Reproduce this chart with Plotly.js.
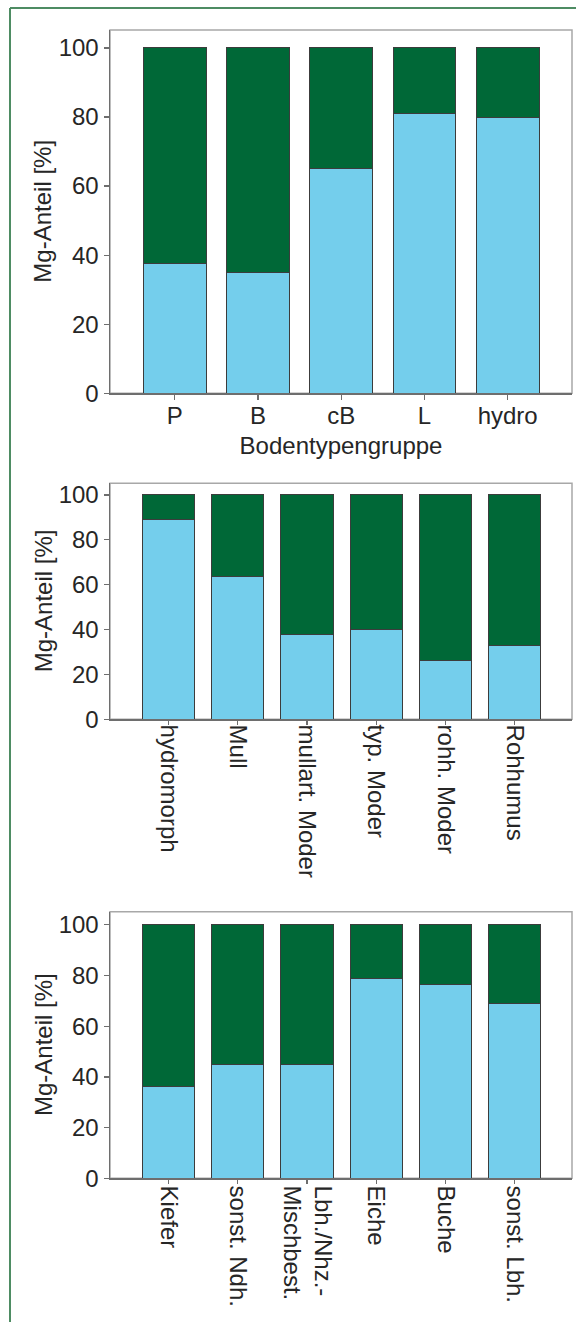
<!DOCTYPE html>
<html>
<head>
<meta charset="utf-8">
<script src="https://cdn.plot.ly/plotly-3.0.1.min.js"></script>
<style>
html,body{margin:0;padding:0;background:#fff;}
#chart{width:576px;height:1322px;}
</style>
</head>
<body>
<div id="chart"></div>
<script>
// ---- data ----
var cat1 = ['P', 'B', 'cB', 'L', 'hydro'];
var light1 = [37.6, 35.0, 65.1, 81.0, 80.0];
var dark1 = [62.4, 65.0, 34.9, 19.0, 20.0];

var cat2 = ['hydromorph', 'Mull', 'mullart. Moder', 'typ. Moder', 'rohh. Moder', 'Rohhumus'];
var light2 = [88.9, 63.6, 38.0, 40.0, 26.4, 32.8];
var dark2 = [11.1, 36.4, 62.0, 60.0, 73.6, 67.2];

var cat3 = ['Kiefer', 'sonst. Ndh.', 'Lbh./Nhz.-<br>Mischbest.', 'Eiche', 'Buche', 'sonst. Lbh.'];
var light3 = [36.2, 45.0, 45.0, 78.7, 76.3, 68.8];
var dark3 = [63.8, 55.0, 55.0, 21.3, 23.7, 31.2];

var yTitle = 'Mg-Anteil [%]';
var xTitle1 = 'Bodentypengruppe';
var yTicks = [0, 20, 40, 60, 80, 100];

// ---- styling ----
var W = 576, H = 1322;
var LIGHT = '#74CEEC', DARK = '#006837', EDGE = '#3c3c3c';
var FS = 24;
var FONT = {family: 'Liberation Sans, Arial, sans-serif', size: FS, color: '#262626'};
function py(p) { return 1 - p / H; }
function px(p) { return p / W; }

var xdom = [px(110), px(572)];
var panels = [
  {cats: cat1, light: light1, dark: dark1, top: 30, bottom: 393.3, xr: [-0.779, 4.773], angle: 0, tl: 5, so: -5},
  {cats: cat2, light: light2, dark: dark2, top: 483.3, bottom: 719.3, xr: [-0.845, 5.826], angle: 90, tl: 4, so: -5},
  {cats: cat3, light: light3, dark: dark3, top: 911.7, bottom: 1178.3, xr: [-0.845, 5.826], angle: 90, tl: 4, so: -3}
];

var data = [];
var layout = {
  width: W, height: H,
  margin: {l: 0, r: 0, t: 0, b: 0},
  paper_bgcolor: '#fff', plot_bgcolor: '#fff',
  barmode: 'stack', bargap: 0.244,
  showlegend: false,
  font: FONT,
  shapes: [], annotations: []
};

panels.forEach(function (p, i) {
  var n = i + 1;
  var xa = n === 1 ? 'x' : 'x' + n;
  var ya = n === 1 ? 'y' : 'y' + n;
  data.push({type: 'bar', x: p.cats, y: p.light, xaxis: xa, yaxis: ya,
    marker: {color: LIGHT, line: {color: EDGE, width: 1}}});
  data.push({type: 'bar', x: p.cats, y: p.dark, xaxis: xa, yaxis: ya,
    marker: {color: DARK, line: {color: EDGE, width: 1}}});
  var xkey = n === 1 ? 'xaxis' : 'xaxis' + n;
  var ykey = n === 1 ? 'yaxis' : 'yaxis' + n;
  layout[xkey] = {
    domain: xdom, anchor: ya, type: 'category', range: p.xr,
    showgrid: false, zeroline: false,
    showline: true, linecolor: '#6e6e6e', linewidth: 1.5,
    ticks: 'outside', ticklen: p.tl, tickcolor: '#6e6e6e', tickwidth: 1.2,
    ticklabelstandoff: p.so,
    tickangle: p.angle, tickfont: FONT,
    fixedrange: true
  };
  if (n === 1) {
    layout[xkey].title = {text: xTitle1, font: FONT, standoff: 9};
  }
  layout[ykey] = {
    domain: [py(p.bottom), py(p.top)], anchor: xa, range: [0, 105.2],
    tickvals: yTicks, ticktext: yTicks.map(String),
    showgrid: false, zeroline: false,
    showline: true, linecolor: '#6e6e6e', linewidth: 1.5,
    ticks: 'outside', ticklen: 5, tickcolor: '#6e6e6e', tickwidth: 1.2,
    tickfont: FONT,
    fixedrange: true
  };
  // gray plot frame
  layout.shapes.push({type: 'rect', xref: xa + ' domain', yref: ya + ' domain',
    x0: 0, x1: 1, y0: 0, y1: 1, line: {color: '#a8a8a8', width: 1.5}, layer: 'below'});
  // y axis title
  layout.annotations.push({text: yTitle, xref: 'paper', yref: 'paper',
    x: px(43), y: py((p.top + p.bottom) / 2), xanchor: 'center', yanchor: 'middle',
    textangle: -90, showarrow: false, font: FONT});
});

// outer green border (left and top)
layout.shapes.push({type: 'line', xref: 'paper', yref: 'paper',
  x0: px(10), x1: px(10), y0: 0, y1: py(8), line: {color: '#4e8c63', width: 2}});
layout.shapes.push({type: 'line', xref: 'paper', yref: 'paper',
  x0: px(10), x1: 1, y0: py(8), y1: py(8), line: {color: '#4e8c63', width: 2}});

Plotly.newPlot('chart', data, layout, {staticPlot: true, displayModeBar: false});
</script>
</body>
</html>
